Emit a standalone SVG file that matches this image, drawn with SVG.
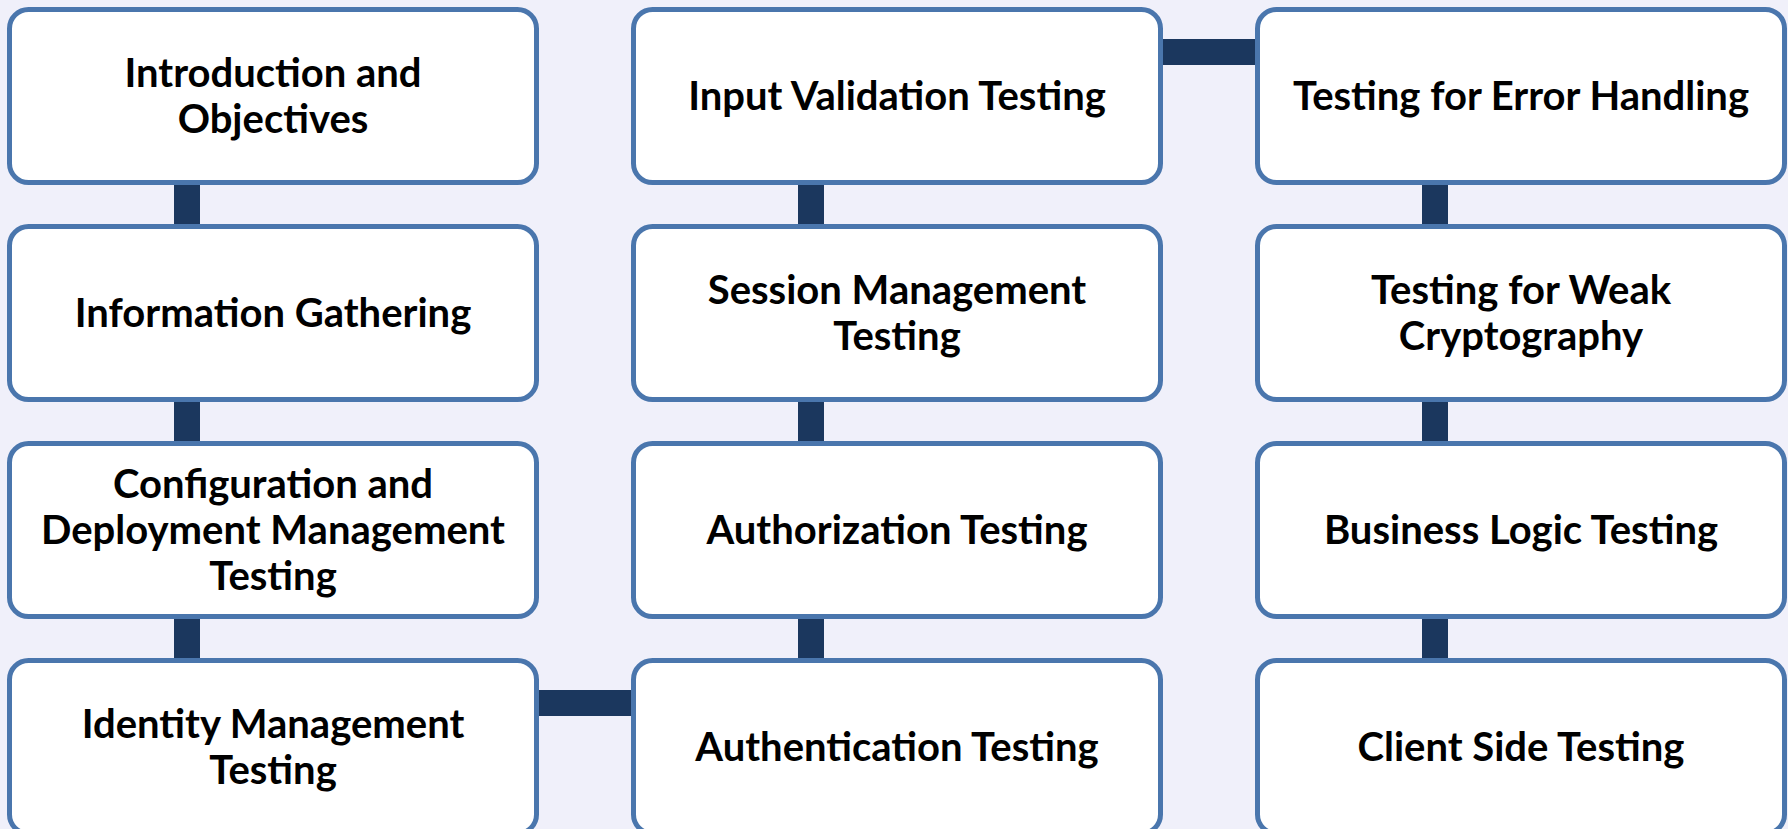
<svg xmlns="http://www.w3.org/2000/svg" width="1788" height="829" viewBox="0 0 1788 829">
  <style>
    .box { fill: #ffffff; stroke: #4a76ad; stroke-width: 5; }
    .link { fill: #1b375e; }
    .label { font-family: "Lato", "Liberation Sans", sans-serif; font-weight: 700; font-size: 40px; fill: #000000; text-anchor: middle; }
  </style>
  <rect width="1788" height="829" fill="#f0f0fa"/>

  <!-- connectors: solid bars joining the cards -->
  <g id="connectors">
    <rect class="link" x="174" y="180" width="26" height="50"/>
    <rect class="link" x="174" y="397" width="26" height="50"/>
    <rect class="link" x="174" y="614" width="26" height="50"/>
    <rect class="link" x="535" y="690" width="100" height="26"/>
    <rect class="link" x="798" y="614" width="26" height="50"/>
    <rect class="link" x="798" y="397" width="26" height="50"/>
    <rect class="link" x="798" y="180" width="26" height="50"/>
    <rect class="link" x="1159" y="39" width="100" height="26"/>
    <rect class="link" x="1422" y="180" width="26" height="50"/>
    <rect class="link" x="1422" y="397" width="26" height="50"/>
    <rect class="link" x="1422" y="614" width="26" height="50"/>
  </g>

  <!-- column 1 -->
  <g id="intro">
    <rect class="box" x="9.5" y="9.5" width="527" height="173" rx="19"/>
    <text class="label" x="273" y="87">Introduction and</text>
    <text class="label" x="273" y="133">Objectives</text>
  </g>
  <g id="info-gathering">
    <rect class="box" x="9.5" y="226.5" width="527" height="173" rx="19"/>
    <text class="label" x="273" y="327">Information Gathering</text>
  </g>
  <g id="config-deploy">
    <rect class="box" x="9.5" y="443.5" width="527" height="173" rx="19"/>
    <text class="label" x="273" y="498">Configuration and</text>
    <text class="label" x="273" y="544">Deployment Management</text>
    <text class="label" x="273" y="590">Testing</text>
  </g>
  <g id="identity">
    <rect class="box" x="9.5" y="660.5" width="527" height="173" rx="19"/>
    <text class="label" x="273" y="738">Identity Management</text>
    <text class="label" x="273" y="784">Testing</text>
  </g>

  <!-- column 2 -->
  <g id="input-validation">
    <rect class="box" x="633.5" y="9.5" width="527" height="173" rx="19"/>
    <text class="label" x="897" y="110">Input Validation Testing</text>
  </g>
  <g id="session">
    <rect class="box" x="633.5" y="226.5" width="527" height="173" rx="19"/>
    <text class="label" x="897" y="304">Session Management</text>
    <text class="label" x="897" y="350">Testing</text>
  </g>
  <g id="authorization">
    <rect class="box" x="633.5" y="443.5" width="527" height="173" rx="19"/>
    <text class="label" x="897" y="544">Authorization Testing</text>
  </g>
  <g id="authentication">
    <rect class="box" x="633.5" y="660.5" width="527" height="173" rx="19"/>
    <text class="label" x="897" y="761">Authentication Testing</text>
  </g>

  <!-- column 3 -->
  <g id="error-handling">
    <rect class="box" x="1257.5" y="9.5" width="527" height="173" rx="19"/>
    <text class="label" x="1521" y="110">Testing for Error Handling</text>
  </g>
  <g id="weak-crypto">
    <rect class="box" x="1257.5" y="226.5" width="527" height="173" rx="19"/>
    <text class="label" x="1521" y="304">Testing for Weak</text>
    <text class="label" x="1521" y="350">Cryptography</text>
  </g>
  <g id="business-logic">
    <rect class="box" x="1257.5" y="443.5" width="527" height="173" rx="19"/>
    <text class="label" x="1521" y="544">Business Logic Testing</text>
  </g>
  <g id="client-side">
    <rect class="box" x="1257.5" y="660.5" width="527" height="173" rx="19"/>
    <text class="label" x="1521" y="761">Client Side Testing</text>
  </g>
</svg>
